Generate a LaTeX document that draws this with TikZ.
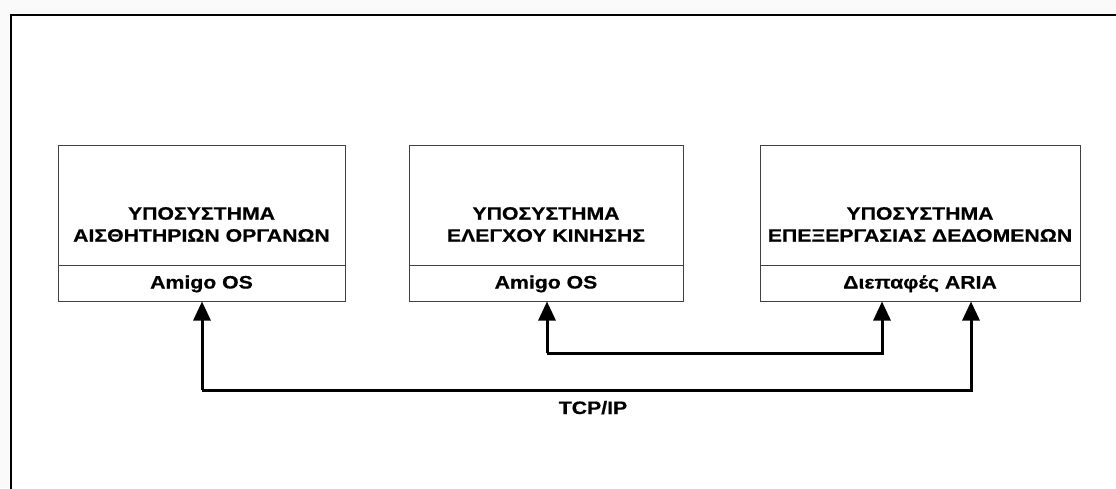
\documentclass[tikz,border=0pt]{standalone}
\usepackage{fontspec}
\newfontfamily\dfont{Liberation Sans}[FakeStretch=1.18,FakeBold=0.6]
\usetikzlibrary{arrows.meta}
\begin{document}
\begin{tikzpicture}[x=1pt,y=-1pt,
  part/.style={draw=black!75,line width=1pt,fill=white,inner sep=0pt,anchor=north west},
  txt/.style={font=\dfont\bfseries\fontsize{18}{22}\selectfont,align=center,inner sep=0pt},
  link/.style={line width=3pt,-{Triangle[length=19pt,width=17pt]}}
]
\useasboundingbox (0,0) rectangle (1116,488);
\fill[black!2] (0,0) rectangle (1116,488);
\fill[white] (11,15) rectangle (1120,492);
\draw[line width=2.8pt] (11,495) -- (11,15) -- (1120,15);
% boxes
\node[part,minimum width=287pt,minimum height=120pt] (t1) at (58,145) {};
\node[part,minimum width=287pt,minimum height=35.5pt] (b1) at (58,265) {};
\node[part,minimum width=274pt,minimum height=120pt] (t2) at (409,145) {};
\node[part,minimum width=274pt,minimum height=35.5pt] (b2) at (409,265) {};
\node[part,minimum width=320pt,minimum height=120pt] (t3) at (760,145) {};
\node[part,minimum width=320pt,minimum height=35.5pt] (b3) at (760,265) {};
% texts
\node[txt] (l1) at (201.5,224.5) {ΥΠΟΣΥΣΤΗΜΑ\\ΑΙΣΘΗΤΗΡΙΩΝ ΟΡΓΑΝΩΝ};
\node[txt] (l2) at (546,224.5) {ΥΠΟΣΥΣΤΗΜΑ\\ΕΛΕΓΧΟΥ ΚΙΝΗΣΗΣ};
\node[txt] (l3) at (920,224.5) {ΥΠΟΣΥΣΤΗΜΑ\\ΕΠΕΞΕΡΓΑΣΙΑΣ ΔΕΔΟΜΕΝΩΝ};
\node[txt,anchor=base] (o1) at (201.5,288.5) {Amigo OS};
\node[txt,anchor=base] (o2) at (546,288.5) {Amigo OS};
\node[txt,anchor=base] (o3) at (920,288.5) {Διεπαφές ARIA};
\node[txt,anchor=base] (tcp) at (593,414) {TCP/IP};
% connectors
\coordinate (c1) at (202,390);
\coordinate (c2) at (971,390);
\coordinate (c3) at (547,353);
\coordinate (c4) at (882,353);
\draw[link] (c1) -- (c1 |- b1.south);
\draw[link] (c1) -- (c2) -- (c2 |- b3.south);
\draw[link] (c3) -- (c3 |- b2.south);
\draw[link] (c3) -- (c4) -- (c4 |- b3.south);
\end{tikzpicture}
\end{document}
